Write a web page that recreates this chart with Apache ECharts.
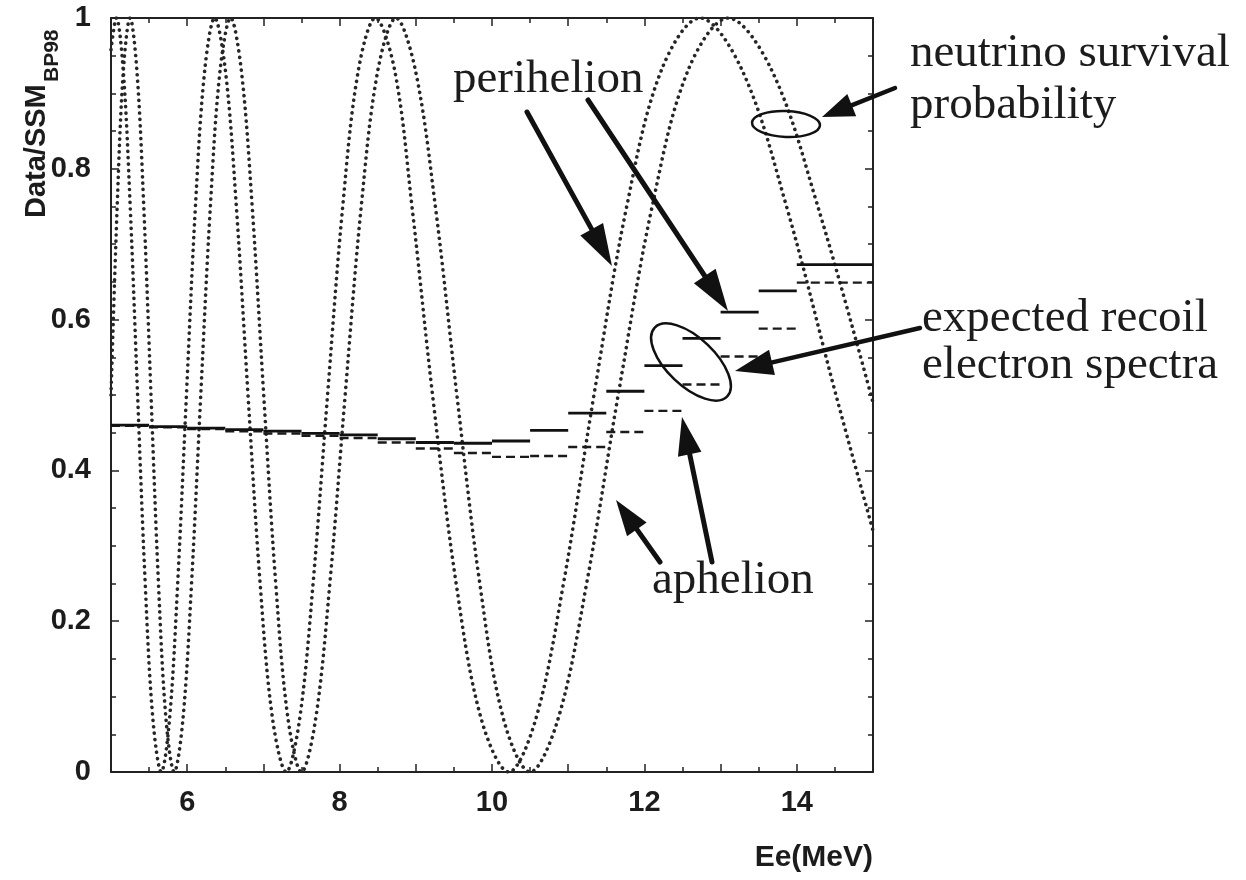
<!DOCTYPE html>
<html>
<head>
<meta charset="utf-8">
<script src="https://cdn.jsdelivr.net/npm/echarts@6/dist/echarts.min.js"></script>
<style>html,body{margin:0;padding:0;background:#fff}#c{width:1246px;height:880px}</style>
</head>
<body>
<div id="c"></div>
<script>
// ---- data ----
const xTickLabels = [6, 8, 10, 12, 14];
const yTickLabels = ['0', '0.2', '0.4', '0.6', '0.8', '1'];

// energy bins of the expected recoil electron spectra (MeV)
const binLow  = [5, 5.5, 6, 6.5, 7, 7.5, 8, 8.5, 9, 9.5, 10, 10.5, 11, 11.5, 12, 12.5, 13, 13.5, 14];
const binHigh = [5.5, 6, 6.5, 7, 7.5, 8, 8.5, 9, 9.5, 10, 10.5, 11, 11.5, 12, 12.5, 13, 13.5, 14, 15];
const perihelionSpectrum = [0.460, 0.458, 0.456, 0.454, 0.452, 0.449, 0.447, 0.442, 0.437, 0.436,
                            0.439, 0.453, 0.476, 0.505, 0.539, 0.575, 0.610, 0.638, 0.673];
const aphelionSpectrum   = [0.459, 0.457, 0.455, 0.452, 0.449, 0.446, 0.443, 0.437, 0.429, 0.423,
                            0.418, 0.419, 0.431, 0.451, 0.479, 0.514, 0.551, 0.588, 0.649];

// neutrino survival probability curves (dotted)
const perihelionE = [5.0, 5.07, 5.161, 5.252, 5.349, 5.449, 5.55, 5.66, 5.768, 5.875, 5.99, 6.108, 6.229, 6.36,
                     6.502, 6.645, 6.798, 6.957, 7.121, 7.30, 7.475, 7.652, 7.842, 8.041, 8.245, 8.47,
                     8.724, 8.95, 9.22, 9.53, 9.86, 10.22, 10.574, 10.938, 11.338, 11.768, 12.22, 12.73,
                     13.286, 13.865, 14.514, 15.0];
const perihelionP = [0.958, 1, 0.93, 0.75, 0.5, 0.25, 0.07, 0, 0.07, 0.25, 0.5, 0.75, 0.93, 1,
                     0.93, 0.75, 0.5, 0.25, 0.07, 0, 0.07, 0.25, 0.5, 0.75, 0.93, 1,
                     0.93, 0.75, 0.5, 0.25, 0.07, 0, 0.07, 0.25, 0.5, 0.75, 0.93, 1,
                     0.93, 0.75, 0.5, 0.32];
const aphelionE = [5.0, 5.081, 5.162, 5.25, 5.34, 5.43, 5.525, 5.623, 5.722, 5.83, 5.944, 6.057, 6.178, 6.304,
                   6.431, 6.57, 6.711, 6.853, 7.004, 7.162, 7.324, 7.50, 7.685, 7.872, 8.073, 8.284, 8.501,
                   8.74, 8.996, 9.257, 9.539, 9.84, 10.152, 10.50, 10.866, 11.242, 11.656, 12.102, 12.57,
                   13.1, 13.674, 14.276, 15.0];
const aphelionP = [0.5, 0.75, 0.93, 1, 0.93, 0.75, 0.5, 0.25, 0.07, 0, 0.07, 0.25, 0.5, 0.75,
                   0.93, 1, 0.93, 0.75, 0.5, 0.25, 0.07, 0, 0.07, 0.25, 0.5, 0.75, 0.93,
                   1, 0.93, 0.75, 0.5, 0.25, 0.07, 0, 0.07, 0.25, 0.5, 0.75, 0.93,
                   1, 0.93, 0.75, 0.49];

// ---- chart ----
const chart = echarts.init(document.getElementById('c'), null, {renderer: 'canvas'});
const INK = '#1c1c1c';
const SANS = '"Liberation Sans", Arial, sans-serif';
const SERIF = '"Liberation Serif", "Times New Roman", serif';

function segmentRenderer(color, width, dash) {
  return function (params, api) {
    const p0 = api.coord([api.value(0), api.value(2)]);
    const p1 = api.coord([api.value(1), api.value(2)]);
    return {
      type: 'line',
      shape: {x1: p0[0], y1: p0[1], x2: p1[0], y2: p1[1]},
      style: {stroke: color, lineWidth: width, lineDash: dash}
    };
  };
}

function axisCommon() {
  return {
    axisLine: {show: true, onZero: false, lineStyle: {color: '#222', width: 2}},
    axisTick: {show: true, inside: true, length: 8, lineStyle: {color: '#222', width: 1.5}},
    minorTick: {show: true, length: 5, lineStyle: {color: '#222', width: 1.5}},
    splitLine: {show: false},
    minorSplitLine: {show: false}
  };
}

const xBase = axisCommon();
const yBase = axisCommon();

function arrow(x1, y1, x2, y2, hl, hw, sw) {
  const dx = x2 - x1, dy = y2 - y1, L = Math.hypot(dx, dy);
  const ux = dx / L, uy = dy / L, px = -uy, py = ux;
  const bx = x2 - ux * hl, by = y2 - uy * hl;
  return [
    {type: 'line', shape: {x1: x1, y1: y1, x2: bx + ux * 3, y2: by + uy * 3},
     style: {stroke: '#111', lineWidth: sw, lineCap: 'round'}, z: 100},
    {type: 'polygon', shape: {points: [[x2, y2], [bx + px * hw / 2, by + py * hw / 2], [bx - px * hw / 2, by - py * hw / 2]]},
     style: {fill: '#111'}, z: 100}
  ];
}

function label(text, x, y) {
  return {type: 'text', x: x, y: y, z: 100,
          style: {text: text, fill: INK, font: '47px ' + SERIF, textAlign: 'left', textVerticalAlign: 'middle'}};
}

const graphics = [].concat(
  arrow(527, 112, 612, 266, 42, 26, 5),
  arrow(588, 100, 728, 311, 42, 26, 5),
  arrow(895, 88, 822, 117, 32, 24, 4.5),
  arrow(920, 328, 735, 371, 38, 26, 4.5),
  arrow(660, 562, 616, 500, 36, 24, 5),
  arrow(712, 562, 682, 417, 38, 24, 5),
  [
    {type: 'ellipse', x: 786, y: 124, rotation: -0.04, shape: {cx: 0, cy: 0, rx: 34, ry: 13},
     style: {fill: 'none', stroke: '#111', lineWidth: 2.5}, z: 100},
    {type: 'ellipse', x: 691, y: 362, rotation: -0.76, shape: {cx: 0, cy: 0, rx: 50, ry: 24},
     style: {fill: 'none', stroke: '#111', lineWidth: 2.5}, z: 100},
    label('perihelion', 453, 80),
    label('neutrino survival', 910, 54),
    label('probability', 910, 106),
    label('expected recoil', 922, 319),
    label('electron spectra', 922, 366),
    label('aphelion', 652, 581),
    {type: 'text', x: 873, y: 858, z: 100,
     style: {text: 'Ee(MeV)', fill: INK, font: 'bold 30px ' + SANS, textAlign: 'right', textVerticalAlign: 'middle'}},
    {type: 'text', x: 51, y: 218, rotation: Math.PI / 2, z: 100,
     style: {text: 'Data/SSM', fill: INK, font: 'bold 29px ' + SANS, textAlign: 'left', textVerticalAlign: 'bottom'}},
    {type: 'text', x: 63, y: 82, rotation: Math.PI / 2, z: 100,
     style: {text: 'BP98', fill: INK, font: 'bold 21px ' + SANS, textAlign: 'left', textVerticalAlign: 'bottom'}}
  ]
);

const option = {
  animation: false,
  backgroundColor: '#fff',
  grid: {left: 111, top: 18, width: 762, height: 754, containLabel: false},
  xAxis: [
    Object.assign({}, xBase, {
      type: 'value', min: 5, max: 15, interval: 1, position: 'bottom',
      minorTick: Object.assign({}, xBase.minorTick, {splitNumber: 2}),
      axisLabel: {margin: 16, fontSize: 29, fontWeight: 'bold', color: INK, fontFamily: SANS,
                  formatter: v => xTickLabels.indexOf(v) >= 0 ? String(v) : ''}
    }),
    Object.assign({}, xBase, {
      type: 'value', min: 5, max: 15, interval: 1, position: 'top',
      minorTick: Object.assign({}, xBase.minorTick, {splitNumber: 2}),
      axisLabel: {show: false}
    })
  ],
  yAxis: [
    Object.assign({}, yBase, {
      type: 'value', min: 0, max: 1, interval: 0.2, position: 'left',
      minorTick: Object.assign({}, yBase.minorTick, {splitNumber: 4}),
      axisLabel: {margin: 20, fontSize: 29, fontWeight: 'bold', color: INK, fontFamily: SANS,
                  formatter: (v) => yTickLabels[Math.round(v * 5)]}
    }),
    Object.assign({}, yBase, {
      type: 'value', min: 0, max: 1, interval: 0.2, position: 'right',
      minorTick: Object.assign({}, yBase.minorTick, {splitNumber: 4}),
      axisLabel: {show: false}
    })
  ],
  series: [
    {
      name: 'survival perihelion', type: 'line', xAxisIndex: 0, yAxisIndex: 0,
      data: perihelionE.map((e, i) => [e, perihelionP[i]]),
      showSymbol: false, smooth: 0.35, silent: true, z: 2,
      lineStyle: {color: '#262626', width: 3.6, type: [0.1, 6.3], cap: 'round'}
    },
    {
      name: 'survival aphelion', type: 'line', xAxisIndex: 0, yAxisIndex: 0,
      data: aphelionE.map((e, i) => [e, aphelionP[i]]),
      showSymbol: false, smooth: 0.35, silent: true, z: 2,
      lineStyle: {color: '#262626', width: 3.6, type: [0.1, 6.3], cap: 'round'}
    },
    {
      name: 'aphelion spectrum', type: 'custom', xAxisIndex: 0, yAxisIndex: 0, z: 3, silent: true,
      renderItem: segmentRenderer('#1a1a1a', 2.4, [9, 5]),
      encode: {x: [0, 1], y: 2},
      data: binLow.map((lo, i) => [lo, binHigh[i], aphelionSpectrum[i]])
    },
    {
      name: 'perihelion spectrum', type: 'custom', xAxisIndex: 0, yAxisIndex: 0, z: 4, silent: true,
      renderItem: segmentRenderer('#111', 2.8, null),
      encode: {x: [0, 1], y: 2},
      data: binLow.map((lo, i) => [lo, binHigh[i], perihelionSpectrum[i]])
    }
  ],
  graphic: graphics
};
chart.setOption(option);
</script>
</body>
</html>
